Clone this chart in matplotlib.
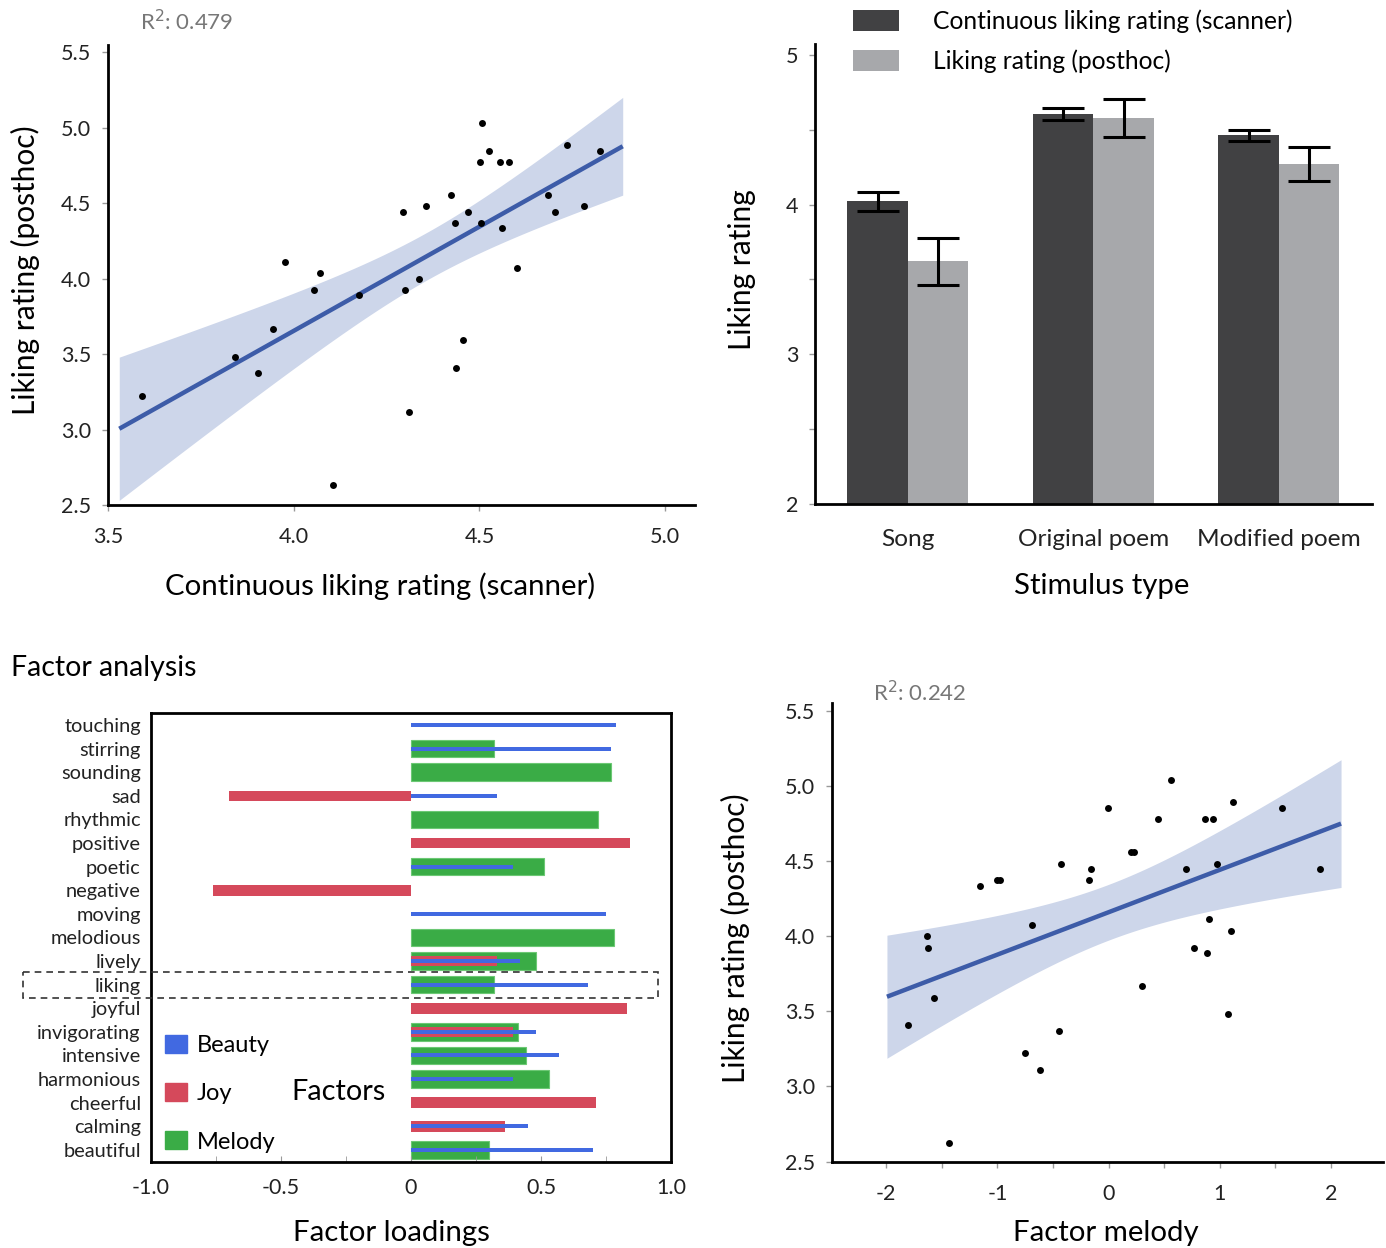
import numpy as np
import matplotlib
matplotlib.use("Agg")
import matplotlib.pyplot as plt
from matplotlib.patches import Patch, Rectangle

plt.rcParams['font.family'] = ['Lato', 'DejaVu Sans']
plt.rcParams['axes.unicode_minus'] = False

# scatter 1: continuous liking (scanner) vs posthoc liking
scanner = [3.592, 3.843, 3.905, 3.944, 3.976, 4.055, 4.070, 4.105, 4.176, 4.295,
           4.299, 4.310, 4.336, 4.355, 4.423, 4.434, 4.436, 4.457, 4.468, 4.502,
           4.504, 4.507, 4.525, 4.555, 4.560, 4.580, 4.601, 4.685, 4.702, 4.735,
           4.782, 4.824]
posthoc = [3.224, 3.484, 3.373, 3.669, 4.111, 3.927, 4.037, 2.635, 3.889, 4.444,
           3.927, 3.115, 4.000, 4.480, 4.553, 4.369, 3.411, 3.595, 4.444, 4.775,
           4.369, 5.035, 4.849, 4.775, 4.333, 4.775, 4.073, 4.553, 4.444, 4.887,
           4.480, 4.849]

# scatter 2: factor melody vs posthoc liking
melody_x = [-1.808, -1.635, -1.623, -1.572, -1.440, -1.159, -1.008, -0.973, -0.755, -0.685,
            -0.617, -0.444, -0.429, -0.176, -0.157, -0.006, 0.205, 0.224, 0.301, 0.444,
            0.556, 0.691, 0.765, 0.870, 0.883, 0.906, 0.937, 0.970, 1.072, 1.101,
            1.114, 1.562, 1.904]
melody_y = [3.406, 4.000, 3.924, 3.591, 2.627, 4.333, 4.370, 4.370, 3.221, 4.074,
            3.109, 3.368, 4.482, 4.370, 4.444, 4.853, 4.556, 4.556, 3.665, 4.779,
            5.038, 4.444, 3.924, 4.779, 3.888, 4.112, 4.779, 4.482, 3.480, 4.035,
            4.889, 4.853, 4.444]

# bar chart
stimuli = ['Song', 'Original poem', 'Modified poem']
scanner_mean = [4.021, 4.603, 4.462]
scanner_err = [0.064, 0.040, 0.035]
posthoc_mean = [3.621, 4.576, 4.270]
posthoc_err = [0.157, 0.126, 0.115]

# factor loadings
items = ['touching', 'stirring', 'sounding', 'sad', 'rhythmic', 'positive', 'poetic',
         'negative', 'moving', 'melodious', 'lively', 'liking', 'joyful', 'invigorating',
         'intensive', 'harmonious', 'cheerful', 'calming', 'beautiful']
nan = np.nan
beauty = [0.789, 0.769, nan, 0.33, nan, nan, 0.39, nan, 0.749, nan, 0.42, 0.679,
          nan, 0.48, 0.57, 0.39, nan, 0.45, 0.699]
joy = [nan, nan, nan, -0.699, nan, 0.841, nan, -0.761, nan, nan, 0.33, nan,
       0.829, 0.391, nan, nan, 0.709, 0.36, nan]
melody = [nan, 0.32, 0.769, nan, 0.719, nan, 0.51, nan, nan, 0.779, 0.48, 0.32,
          nan, 0.41, 0.44, 0.53, nan, nan, 0.30]

LINE = '#3d5ca8'
BAND = '#cdd6ea'
TICKC = '#999999'
TXT = '#222222'


def regplot(ax, x, y):
    x = np.asarray(x)
    y = np.asarray(y)
    n = len(x)
    b, a = np.polyfit(x, y, 1)
    pad = 0.05 * (x.max() - x.min())
    grid = np.linspace(x.min() - pad, x.max() + pad, 100)
    fit = a + b * grid
    resid = y - (a + b * x)
    s = np.sqrt(np.sum(resid ** 2) / (n - 2))
    sxx = np.sum((x - x.mean()) ** 2)
    ci = 2.04 * s * np.sqrt(1.0 / n + (grid - x.mean()) ** 2 / sxx)
    ax.fill_between(grid, fit - ci, fit + ci, color=BAND, lw=0, zorder=1)
    ax.plot(grid, fit, color=LINE, lw=3.2, zorder=2, solid_capstyle='butt')
    ax.scatter(x, y, s=25, color='black', zorder=3, lw=0)


def style_scatter(ax):
    for side in ['top', 'right']:
        ax.spines[side].set_visible(False)
    for side in ['left', 'bottom']:
        ax.spines[side].set_linewidth(2)
    ax.tick_params(which='both', color=TICKC, width=1, labelsize=15.5, labelcolor=TXT)
    ax.tick_params(which='major', length=4)
    ax.tick_params(which='minor', length=4)


fig = plt.figure(figsize=(13.86, 12.48), dpi=100)

# ---- top left
ax1 = fig.add_axes([0.0779, 0.5954, 0.4235, 0.3686])
regplot(ax1, scanner, posthoc)
ax1.set_xlim(3.5, 5.08)
ax1.set_ylim(2.5, 5.55)
ax1.set_xticks([3.5, 4.0, 4.5, 5.0])
ax1.set_yticks([2.5, 3.0, 3.5, 4.0, 4.5, 5.0, 5.5])
ax1.set_xticklabels(['3.5', '4.0', '4.5', '5.0'])
ax1.set_yticklabels(['2.5', '3.0', '3.5', '4.0', '4.5', '5.0', '5.5'])
style_scatter(ax1)
ax1.tick_params(axis='x', pad=12)
ax1.tick_params(axis='y', pad=8)
ax1.set_xlabel('Continuous liking rating (scanner)', fontsize=21.2)
ax1.xaxis.set_label_coords(0.463, -0.176)
ax1.xaxis.label.set_va('center')
ax1.set_ylabel('Liking rating (posthoc)', fontsize=21.5)
ax1.yaxis.set_label_coords(-0.141, 0.511)
ax1.yaxis.label.set_va('center')
fig.text(140 / 1386, 1 - 22 / 1248, 'R$^2$: 0.479', fontsize=16, color='#777777',
         va='center', ha='left')

# ---- top right
ax2 = fig.add_axes([0.588, 0.5962, 0.4017, 0.3683])
pos = np.arange(len(stimuli))
w = 0.326
ax2.bar(pos - w / 2, np.array(scanner_mean) - 2, w, bottom=2, color='#414143',
        yerr=scanner_err, capsize=15, error_kw=dict(elinewidth=2.2, capthick=2.2, ecolor='black'),
        label='Continuous liking rating (scanner)')
ax2.bar(pos + w / 2, np.array(posthoc_mean) - 2, w, bottom=2, color='#a7a8ab',
        yerr=posthoc_err, capsize=15, error_kw=dict(elinewidth=2.2, capthick=2.2, ecolor='black'),
        label='Liking rating (posthoc)')
ax2.set_xlim(-0.5, 2.5)
ax2.set_ylim(2, 5.07)
ax2.set_yticks([2, 3, 4, 5])
ax2.set_yticks([2.5, 3.5, 4.5], minor=True)
ax2.set_xticks(pos)
ax2.set_xticklabels(stimuli)
for side in ['top', 'right']:
    ax2.spines[side].set_visible(False)
for side in ['left', 'bottom']:
    ax2.spines[side].set_linewidth(2)
ax2.tick_params(axis='y', which='both', color=TICKC, width=1, length=4, labelsize=15.5,
                labelcolor=TXT, pad=8)
ax2.tick_params(axis='x', length=0, labelsize=17.6, labelcolor=TXT, pad=18)
ax2.set_xlabel('Stimulus type', fontsize=21.2)
ax2.xaxis.set_label_coords(0.515, -0.178)
ax2.xaxis.label.set_va('center')
ax2.set_ylabel('Liking rating', fontsize=21.5)
ax2.yaxis.set_label_coords(-0.131, 0.509)
ax2.yaxis.label.set_va('center')
ax2.legend(loc='upper left', bbox_to_anchor=(853 / 1386, 1 - 9 / 1248),
           bbox_transform=fig.transFigure, frameon=False, fontsize=17.7,
           handlelength=1.87, handleheight=0.95, handletextpad=1.38, labelspacing=0.67,
           borderpad=0, borderaxespad=0)

# ---- bottom left: factor analysis
ax3 = fig.add_axes([0.1086, 0.0692, 0.3758, 0.3593])
rows = np.arange(len(items))
ax3.barh(rows, melody, height=0.75, color='#3aac46', edgecolor='#6cc874', lw=0.8, zorder=1)
ax3.barh(rows, joy, height=0.45, color='#d5495b', lw=0, zorder=2)
ax3.barh(rows, beauty, height=0.17, color='#4169e1', lw=0, zorder=3)
ax3.set_ylim(18.5, -0.5)
ax3.set_xlim(-1, 1)
ax3.set_yticks(rows)
ax3.set_yticklabels(items)
ax3.set_xticks([-1, -0.5, 0, 0.5, 1])
ax3.set_xticklabels(['-1.0', '-0.5', '0', '0.5', '1.0'])
ax3.set_xticks([-0.75, -0.25, 0.25, 0.75], minor=True)
for side in ax3.spines.values():
    side.set_linewidth(2)
ax3.tick_params(axis='y', length=0, labelsize=14.4, labelcolor=TXT, pad=7)
ax3.tick_params(axis='x', which='both', direction='in', length=4, color=TICKC,
                labelsize=15.5, labelcolor=TXT, pad=12)
ax3.set_xlabel('Factor loadings', fontsize=21.2)
ax3.xaxis.set_label_coords(0.462, -0.159)
ax3.xaxis.label.set_va('center')
ax3.add_patch(Rectangle((-1.49, 10.48), 2.44, 1.1, fill=False, ls=(0, (4, 3)),
                        lw=1.2, color='#333333', clip_on=False, zorder=4))
handles = [Patch(color='#4169e1'), Patch(color='#d5495b'), Patch(color='#3aac46')]
ax3.legend(handles, ['Beauty', 'Joy', 'Melody'], loc='upper left',
           bbox_to_anchor=(165 / 1386, 1 - 1035 / 1248), bbox_transform=fig.transFigure,
           frameon=False, fontsize=17, handlelength=0.95, handleheight=0.8,
           handletextpad=0.4, labelspacing=1.14, borderpad=0, borderaxespad=0)
fig.text(339 / 1386, 1 - 1092 / 1248, 'Factors', fontsize=20.8, ha='center', va='center')
fig.text(11 / 1386, 1 - 668 / 1248, 'Factor analysis', fontsize=20.5, ha='left', va='center')

# ---- bottom right
ax4 = fig.add_axes([0.6001, 0.0692, 0.398, 0.3675])
regplot(ax4, melody_x, melody_y)
ax4.set_xlim(-2.49, 2.47)
ax4.set_ylim(2.5, 5.55)
ax4.set_xticks([-2, -1, 0, 1, 2])
ax4.set_xticks([-1.5, -0.5, 0.5, 1.5], minor=True)
ax4.set_yticks([2.5, 3.0, 3.5, 4.0, 4.5, 5.0, 5.5])
ax4.set_yticklabels(['2.5', '3.0', '3.5', '4.0', '4.5', '5.0', '5.5'])
style_scatter(ax4)
ax4.tick_params(axis='x', pad=12)
ax4.tick_params(axis='y', pad=8)
ax4.set_xlabel('Factor melody', fontsize=21.2)
ax4.xaxis.set_label_coords(0.496, -0.155)
ax4.xaxis.label.set_va('center')
ax4.set_ylabel('Liking rating (posthoc)', fontsize=21.5)
ax4.yaxis.set_label_coords(-0.175, 0.488)
ax4.yaxis.label.set_va('center')
fig.text(873 / 1386, 1 - 693 / 1248, 'R$^2$: 0.242', fontsize=16, color='#777777',
         va='center', ha='left')

fig.savefig('out.png', dpi=100)
